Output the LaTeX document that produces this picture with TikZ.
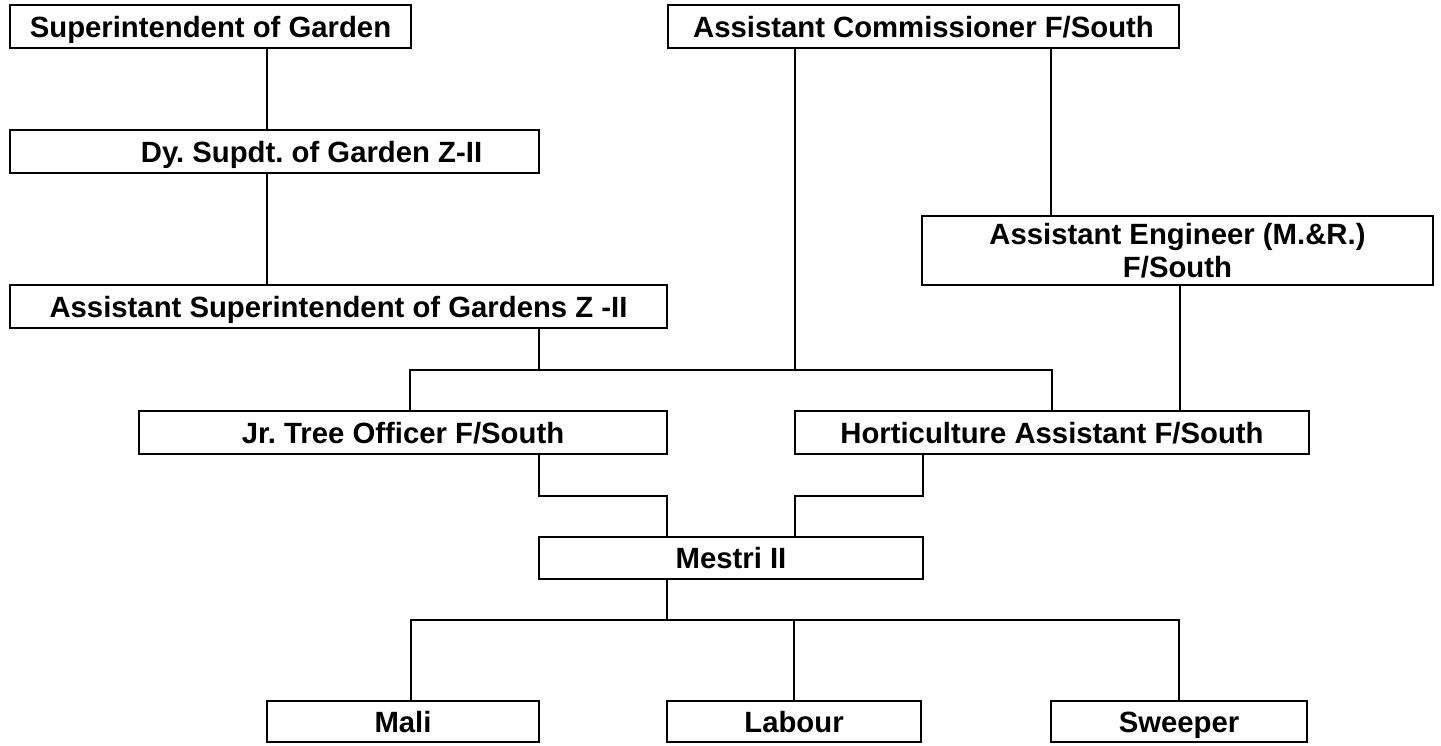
\documentclass[tikz,border=0pt]{standalone}
\usepackage{fontspec}
\setmainfont{Liberation Sans}
\frenchspacing
\begin{document}
\begin{tikzpicture}[x=1pt,y=-1pt,
  box/.style={draw=black,line width=1.7pt,rectangle,inner sep=0pt,
    font=\fontsize{29.3}{33}\selectfont\bfseries,align=center,
    text height=21pt,text depth=0pt},
  conn/.style={draw=black,line width=1.2pt}]
\useasboundingbox[fill=white] (0,0) rectangle (1441,745);
% boxes
\node[box,minimum width=401pt,minimum height=43pt] (sog) at (210.5,26.5) {Superintendent of Garden};
\node[box,minimum width=511pt,minimum height=43pt] (ac) at (923.5,26.5) {Assistant Commissioner F/South};
\node[box,minimum width=529pt,minimum height=43pt] (dy) at (274.5,151.5) {\hspace*{74pt}Dy. Supdt. of Garden Z-II};
\node[box,minimum width=511pt,minimum height=69pt,text height=54pt,text depth=0pt] (ae) at (1177.5,250.5) {Assistant Engineer (M.\&R.)\\F/South};
\node[box,minimum width=657pt,minimum height=43pt] (asg) at (338.5,306.5) {Assistant Superintendent of Gardens Z -II};
\node[box,minimum width=528pt,minimum height=43pt] (jr) at (403,432.5) {Jr. Tree Officer F/South};
\node[box,minimum width=514pt,minimum height=43pt] (ha) at (1052,432.5) {Horticulture Assistant F/South};
\node[box,minimum width=384pt,minimum height=42pt] (mes) at (731,558) {Mestri II};
\node[box,minimum width=272pt,minimum height=41pt] (mali) at (403,721.5) {Mali};
\node[box,minimum width=254pt,minimum height=41pt] (lab) at (794,721.5) {Labour};
\node[box,minimum width=256pt,minimum height=41pt] (swp) at (1179,721.5) {Sweeper};
% bus coordinates
\coordinate (busA) at (795,370);
\coordinate (busB) at (667,620);
% connectors
\draw[conn] (267,0 |- sog.south) -- (267,0 |- dy.north);
\draw[conn] (267,0 |- dy.south) -- (267,0 |- asg.north);
\draw[conn] (539,0 |- asg.south) -- (539,370);
\draw[conn] (410,0 |- jr.north) |- (ha.north |- busA) -- (ha.north);
\draw[conn] (795,0 |- ac.south) -- (busA);
\draw[conn] (1051,0 |- ac.south) -- (1051,0 |- ae.north);
\draw[conn] (1180,0 |- ae.south) -- (1180,0 |- ha.north);
\draw[conn] (539,0 |- jr.south) -- (539,496) -| (667,0 |- mes.north);
\draw[conn] (923,0 |- ha.south) -- (923,496) -| (795,0 |- mes.north);
\draw[conn] (667,0 |- mes.south) -- (busB);
\draw[conn] (411,0 |- mali.north) |- (swp.north |- busB) -- (swp.north);
\draw[conn] (lab.north) -- (lab.north |- busB);
\end{tikzpicture}
\end{document}
